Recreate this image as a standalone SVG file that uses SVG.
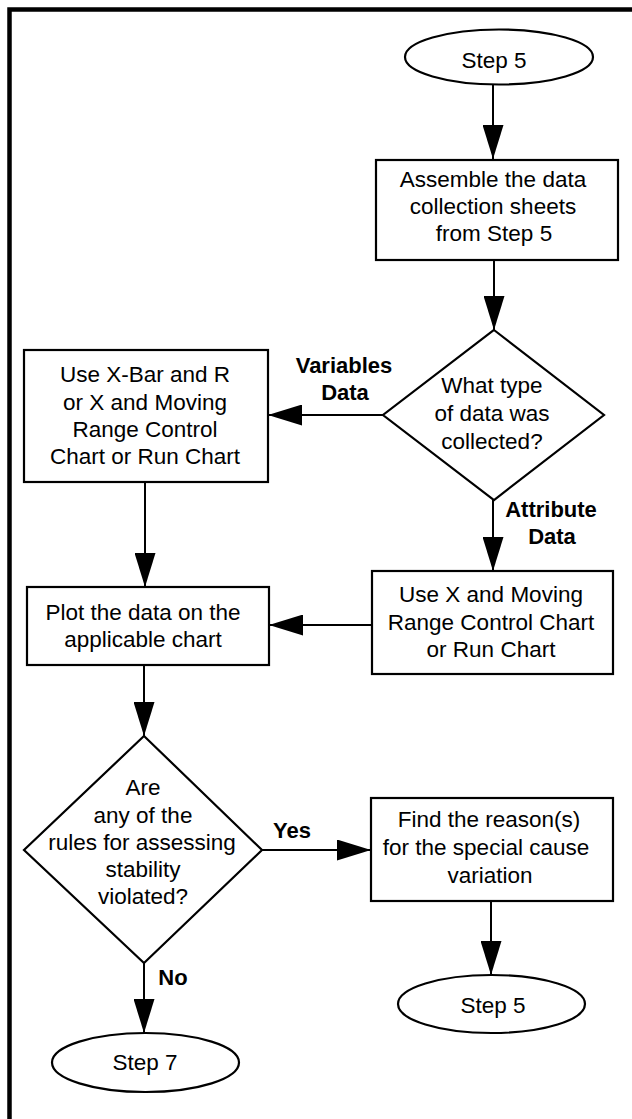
<svg xmlns="http://www.w3.org/2000/svg" width="632" height="1119" viewBox="0 0 632 1119">
<style>
.shape{fill:#fff;stroke:#000;stroke-width:2.2}
.t{font-family:"Liberation Sans",Arial,sans-serif;font-size:22.5px;fill:#000;text-anchor:middle}
.lb{font-family:"Liberation Sans",Arial,sans-serif;font-size:22px;font-weight:bold;fill:#000;text-anchor:middle}
.conn{stroke:#000;stroke-width:2;fill:none;marker-end:url(#ah)}
</style>
<defs>
<marker id="ah" markerUnits="userSpaceOnUse" markerWidth="34" markerHeight="21" refX="34" refY="10.5" orient="auto">
<path d="M0,0 L34,10.5 L0,21 z" fill="#000"/>
</marker>
</defs>
<rect width="632" height="1119" fill="#fff"/>
<path d="M9.5,1119 V9.5 H632" fill="none" stroke="#000" stroke-width="4.5"/>
<g id="connectors">
<line class="conn" x1="493" y1="85" x2="493" y2="159"/>
<line class="conn" x1="494" y1="260" x2="494" y2="330"/>
<line class="conn" x1="383" y1="415" x2="268" y2="415"/>
<line class="conn" x1="493" y1="500" x2="493" y2="571"/>
<line class="conn" x1="145" y1="482" x2="145" y2="587"/>
<line class="conn" x1="372" y1="625" x2="269" y2="625"/>
<line class="conn" x1="144" y1="665" x2="144" y2="736"/>
<line class="conn" x1="262" y1="850" x2="371" y2="850"/>
<line class="conn" x1="491" y1="901" x2="491" y2="975"/>
<line class="conn" x1="144" y1="963" x2="144" y2="1033"/>
</g>
<g id="start">
<ellipse class="shape" cx="499" cy="57" rx="94" ry="27.5"/>
<text class="t" x="494" y="68">Step 5</text>
</g>
<g id="assemble">
<rect class="shape" x="376" y="160" width="242" height="100"/>
<text class="t" x="493" y="187">Assemble the data</text>
<text class="t" x="493" y="214">collection sheets</text>
<text class="t" x="494" y="241">from Step 5</text>
</g>
<g id="datatype">
<polygon class="shape" points="494,330 604,415 494,500 383,415"/>
<text class="t" x="492" y="393">What type</text>
<text class="t" x="492" y="421">of data was</text>
<text class="t" x="492" y="449">collected?</text>
</g>
<g id="label-variables">
<text class="lb" x="344" y="373">Variables</text>
<text class="lb" x="345" y="400">Data</text>
</g>
<g id="xbar">
<rect class="shape" x="24" y="350" width="244" height="132"/>
<text class="t" x="145" y="382">Use X-Bar and R</text>
<text class="t" x="145" y="409.5">or X and Moving</text>
<text class="t" x="145" y="437">Range Control</text>
<text class="t" x="145" y="464">Chart or Run Chart</text>
</g>
<g id="label-attribute">
<text class="lb" x="551" y="517">Attribute</text>
<text class="lb" x="552" y="544">Data</text>
</g>
<g id="xmr">
<rect class="shape" x="372" y="571" width="241" height="103"/>
<text class="t" x="491" y="602">Use X and Moving</text>
<text class="t" x="491" y="630">Range Control Chart</text>
<text class="t" x="491" y="657">or Run Chart</text>
</g>
<g id="plot">
<rect class="shape" x="27" y="587" width="242" height="78"/>
<text class="t" x="143" y="620">Plot the data on the</text>
<text class="t" x="143" y="647">applicable chart</text>
</g>
<g id="rules">
<polygon class="shape" points="144,736 262,850 144,963 24,850"/>
<text class="t" x="143" y="795">Are</text>
<text class="t" x="143" y="822.5">any of the</text>
<text class="t" x="142" y="850">rules for assessing</text>
<text class="t" x="143" y="877">stability</text>
<text class="t" x="143" y="904">violated?</text>
</g>
<g id="label-yes">
<text class="lb" x="292" y="838">Yes</text>
</g>
<g id="reason">
<rect class="shape" x="371" y="798" width="242" height="103"/>
<text class="t" x="489" y="827">Find the reason(s)</text>
<text class="t" x="486" y="855">for the special cause</text>
<text class="t" x="490" y="883">variation</text>
</g>
<g id="step5-end">
<ellipse class="shape" cx="491.5" cy="1004" rx="93.5" ry="29"/>
<text class="t" x="493" y="1013">Step 5</text>
</g>
<g id="label-no">
<text class="lb" x="173" y="985">No</text>
</g>
<g id="step7">
<ellipse class="shape" cx="145.5" cy="1062.5" rx="93.5" ry="29.5"/>
<text class="t" x="145" y="1070">Step 7</text>
</g>
</svg>
